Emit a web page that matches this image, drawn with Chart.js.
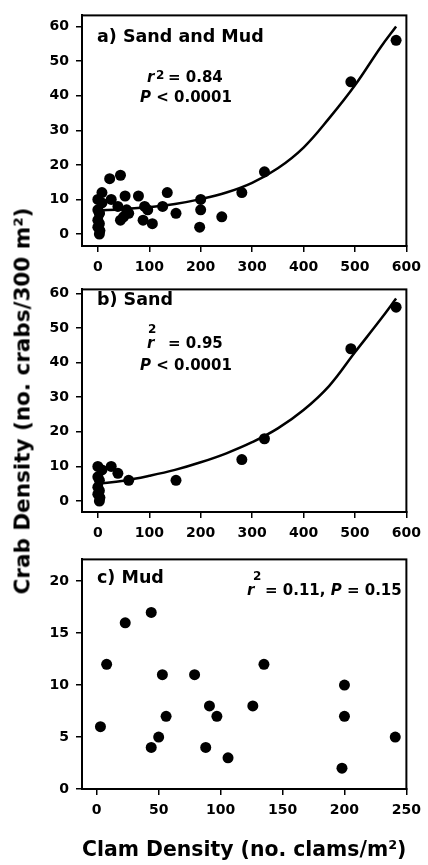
<!DOCTYPE html>
<html lang="en">
<head>
<meta charset="UTF-8">
<title>Crab density vs clam density</title>
<script src="https://cdn.jsdelivr.net/npm/chart.js@4.4.7/dist/chart.umd.min.js"></script>
<style>
  * { margin: 0; padding: 0; box-sizing: border-box; }
  body { width: 428px; height: 865px; background: #fff; position: relative; overflow: hidden; font-family: 'DejaVu Sans', sans-serif; }
  canvas { position: absolute; left: 0; }
  #ytitle {
    position: absolute; left: 22px; top: 401px;
    transform: translate(-50%, -50%) rotate(-90deg);
    white-space: nowrap; font-weight: bold; font-size: 21.5px; color: #000;
  }
</style>
</head>
<body>
<canvas id="chartA" width="428" height="290" style="top:0"></canvas>
<canvas id="chartB" width="428" height="290" style="top:274px"></canvas>
<canvas id="chartC" width="428" height="321" style="top:544px"></canvas>
<div id="ytitle">Crab Density (no. crabs/300 m²)</div>

<script>
// sand sites (clams/m2, crabs/300 m2)
const sandX = [0, 8, 26, 39, 60, 0, 3, 0, 3, 0, 4, 3, 152, 280, 324, 492, 580];
const sandY = [10, 9, 10, 8, 6, 7, 6, 4, 3, 2, 1, 0, 6, 12, 18, 44, 56];
// mud sites
const mudX = [3, 8, 23, 44, 44, 50, 53, 56, 79, 88, 91, 97, 106, 126, 135, 198, 200, 200, 241];
const mudY = [6, 12, 16, 17, 4, 5, 11, 7, 11, 4, 8, 7, 3, 8, 12, 2, 10, 7, 5];

// fitted curves
const fitX = [0, 50, 100, 150, 200, 250, 300, 350, 400, 450, 500, 550, 580];
const fitAllY = [6.8, 7.2, 7.8, 8.7, 10.1, 12, 14.8, 19, 25, 33.5, 43, 54, 60];
const fitSandY = [5.0, 5.9, 7.3, 9.0, 11.2, 13.8, 17, 21, 26.3, 33.3, 43, 52.5, 58.5];

// tick labels
const ticksX600 = [0, 100, 200, 300, 400, 500, 600];
const ticksX250 = [0, 50, 100, 150, 200, 250];
const ticksY60 = [0, 10, 20, 30, 40, 50, 60];
const ticksY20 = [0, 5, 10, 15, 20];

const FONT = 'DejaVu Sans';
const pts = (xs, ys) => xs.map((x, i) => ({ x: x, y: ys[i] }));

// box around plot area
const framePlugin = {
  id: 'frame',
  afterDraw(chart) {
    const { ctx, chartArea: a } = chart;
    ctx.save();
    ctx.strokeStyle = '#000';
    ctx.lineWidth = 2;
    ctx.strokeRect(a.left, a.top, a.right - a.left, a.bottom - a.top);
    ctx.restore();
  }
};

// panel labels and statistics
const notesPlugin = {
  id: 'notes',
  afterDraw(chart, args, opts) {
    const ctx = chart.ctx;
    ctx.save();
    ctx.fillStyle = '#000';
    ctx.textBaseline = 'alphabetic';
    let cx = 0;
    (opts.items || []).forEach(it => {
      ctx.font = it.f;
      const x = it.x != null ? it.x : cx;
      ctx.fillText(it.t, x, it.y);
      cx = x + ctx.measureText(it.t).width;
    });
    ctx.restore();
  }
};

const fLabel = 'bold 17.5px "' + FONT + '"';
const fText = 'bold 15px "' + FONT + '"';
const fItal = 'italic bold 15px "' + FONT + '"';
const fSup = 'bold 12px "' + FONT + '"';

function axis(min, max, tickVals, fit, extra) {
  return Object.assign({
    type: 'linear',
    min: min,
    max: max,
    afterBuildTicks: s => { s.ticks = tickVals.map(v => ({ value: v })); },
    afterFit: fit,
    ticks: { color: '#000', font: { family: FONT, weight: 'bold', size: 14 }, padding: 7, autoSkip: false, maxRotation: 0 },
    grid: { display: true, drawOnChartArea: false, drawTicks: true, tickLength: 6, color: '#000', lineWidth: 1.5 },
    border: { display: true, color: '#000', width: 2 }
  }, extra || {});
}

function makeChart(id, cfg) {
  const datasets = [{
    type: 'scatter',
    data: cfg.points,
    pointRadius: 5.5,
    pointHoverRadius: 5.5,
    backgroundColor: '#000',
    borderWidth: 0,
    clip: false
  }];
  if (cfg.fitY) {
    datasets.push({
      type: 'line',
      data: pts(fitX, cfg.fitY),
      borderColor: '#000',
      borderWidth: 2.5,
      pointRadius: 0,
      tension: 0.4,
      fill: false
    });
  }
  return new Chart(document.getElementById(id), {
    type: 'scatter',
    data: { datasets: datasets },
    options: {
      responsive: false,
      animation: false,
      devicePixelRatio: 1,
      layout: { padding: { top: 14, right: cfg.padRight, left: 0, bottom: 0 } },
      scales: {
        x: axis(cfg.xMin, cfg.xMax, cfg.xTicks, s => { s.height = cfg.xH; }, cfg.xExtra),
        y: axis(cfg.yMin, cfg.yMax, cfg.yTicks, s => { s.width = 82; })
      },
      plugins: {
        legend: { display: false },
        tooltip: { enabled: false },
        notes: { items: cfg.notes }
      }
    },
    plugins: [framePlugin, notesPlugin]
  });
}

// a) Sand and Mud
makeChart('chartA', {
  points: pts(sandX.concat(mudX), sandY.concat(mudY)),
  fitY: fitAllY,
  xMin: -30.8, xMax: 600, yMin: -3.45, yMax: 63.2,
  xTicks: ticksX600, yTicks: ticksY60, xH: 44, padRight: 18,
  notes: [
    { t: 'a) Sand and Mud', x: 97, y: 42, f: fLabel },
    { t: 'r', x: 147, y: 82, f: fItal },
    { t: '2', x: 156, y: 79, f: fSup },
    { t: '= 0.84', x: 168, y: 82, f: fText },
    { t: 'P', x: 140, y: 102, f: fItal },
    { t: ' < 0.0001', y: 102, f: fText }
  ]
});

// b) Sand
makeChart('chartB', {
  points: pts(sandX, sandY),
  fitY: fitSandY,
  xMin: -30.8, xMax: 600, yMin: -3.16, yMax: 61.15,
  xTicks: ticksX600, yTicks: ticksY60, xH: 52, padRight: 18,
  notes: [
    { t: 'b) Sand', x: 97, y: 31, f: fLabel },
    { t: '2', x: 148, y: 59, f: fSup },
    { t: 'r', x: 147, y: 74, f: fItal },
    { t: '= 0.95', x: 168, y: 74, f: fText },
    { t: 'P', x: 140, y: 96, f: fItal },
    { t: ' < 0.0001', y: 96, f: fText }
  ]
});

// c) Mud
makeChart('chartC', {
  points: pts(mudX, mudY),
  fitY: null,
  xMin: -11.9, xMax: 250, yMin: 0, yMax: 22.1,
  xTicks: ticksX250, yTicks: ticksY20, xH: 76, padRight: 17,
  xExtra: {
    title: {
      display: true,
      text: 'Clam Density (no. clams/m²)',
      color: '#000',
      font: { family: FONT, weight: 'bold', size: 21 },
      padding: { top: 0, bottom: 2 }
    }
  },
  notes: [
    { t: 'c) Mud', x: 97, y: 39, f: fLabel },
    { t: '2', x: 253, y: 36, f: fSup },
    { t: 'r', x: 247, y: 51, f: fItal },
    { t: '= 0.11, ', x: 265, y: 51, f: fText },
    { t: 'P', y: 51, f: fItal },
    { t: ' = 0.15', y: 51, f: fText }
  ]
});
</script>
</body>
</html>
